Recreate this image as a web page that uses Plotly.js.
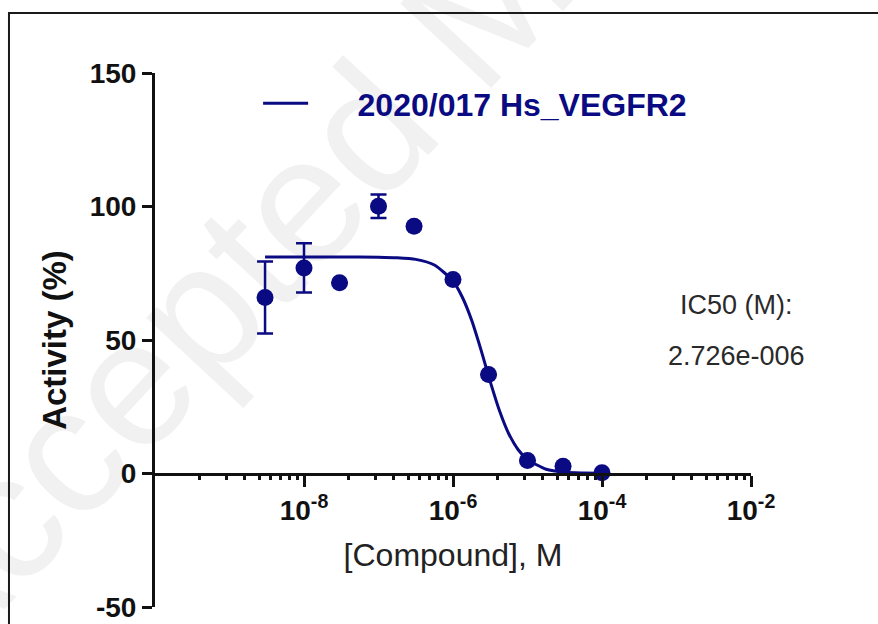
<!DOCTYPE html>
<html>
<head>
<meta charset="utf-8">
<script src="https://cdn.plot.ly/plotly-3.0.1.min.js"></script>
<style>
html,body{margin:0;padding:0;background:#fff;}
#chart{width:878px;height:624px;}
</style>
</head>
<body>
<div id="chart"></div>
<script>
// Measured points: concentration (M), mean activity (%), SD (%)
const concentrations = [3e-9, 1e-8, 3e-8, 1e-7, 3e-7, 1e-6, 3e-6, 1e-5, 3e-5, 1e-4];
const activity = [65.9, 77.0, 71.4, 100.1, 92.6, 72.7, 37.1, 4.9, 2.7, 0.3];
const activitySD = [13.5, 9.2, null, 4.4, null, null, null, null, null, null];

// Fitted curve
const curveX = [3.0e-9, 1e-8, 3.16e-8, 1e-7, 1.78e-7, 3.16e-7, 5.62e-7, 1e-6, 1.33e-6, 1.78e-6,
                2.37e-6, 3.16e-6, 4.22e-6, 5.62e-6, 7.5e-6, 1e-5, 1.78e-5, 3.16e-5, 5.62e-5, 1e-4];
const curveY = [81.1, 81.1, 81.1, 81.0, 80.8, 80.2, 78.1, 72.1, 66.1, 57.4,
                46.4, 34.4, 23.4, 14.8, 8.9, 5.2, 1.6, 0.5, 0.2, 0.05];

const seriesName = "2020/017 Hs_VEGFR2";
const ic50Label = "IC50 (M):";
const ic50Value = "2.726e-006";
const watermarkText = "Accepted Manuscript";

const xMajorTicks = [1e-8, 1e-6, 1e-4, 1e-2];
const xMajorText = ["10<sup>-8</sup>", "10<sup>-6</sup>", "10<sup>-4</sup>", "10<sup>-2</sup>"];
const minorMultipliers = [4, 9, 16, 25, 36, 49, 64, 81];
const minorBases = [1e-10, 1e-8, 1e-6, 1e-4];
const yTicks = [-50, 0, 50, 100, 150];
const yTickText = ["-50", "0", "50", "100", "150"];

const xMinorTicks = [];
minorBases.forEach(b => minorMultipliers.forEach(m => xMinorTicks.push(m * b)));

const navy = "#0a0a82";
const FONT = "Liberation Sans, Arial, sans-serif";
const NBSP = "\u00a0";

const traces = [
  {
    x: curveX, y: curveY, type: "scatter", mode: "lines",
    name: NBSP.repeat(5) + seriesName,
    line: {color: navy, width: 3, shape: "spline", smoothing: 0.6},
    showlegend: true, hoverinfo: "skip"
  },
  {
    x: concentrations, y: activity, type: "scatter", mode: "markers",
    marker: {color: navy, size: 17},
    error_y: {type: "data", array: activitySD, visible: true, color: navy, thickness: 2.5, width: 8},
    showlegend: false, cliponaxis: false
  },
  {
    x: [xMinorTicks[0]], y: [null], xaxis: "x2", type: "scatter", mode: "markers",
    showlegend: false, hoverinfo: "skip"
  }
];

const layout = {
  width: 878, height: 624,
  margin: {l: 155, r: 127, t: 73, b: 17},
  paper_bgcolor: "#ffffff", plot_bgcolor: "rgba(0,0,0,0)",
  font: {family: FONT, color: "#111"},
  showlegend: true,
  legend: {
    x: 0.173, y: 0.943, xanchor: "left", yanchor: "middle",
    bgcolor: "rgba(0,0,0,0)", itemwidth: 45,
    font: {family: FONT, size: 32, color: navy, weight: "bold"}
  },
  xaxis: {
    type: "log", range: [-10, -2],
    anchor: "free", position: 0.25,
    showline: true, linecolor: "#111", linewidth: 3,
    showgrid: false, zeroline: false,
    ticks: "outside", ticklen: 11, tickwidth: 3, tickcolor: "#111",
    tickmode: "array", tickvals: xMajorTicks, ticktext: xMajorText,
    tickfont: {family: FONT, size: 28, color: "#111", weight: "bold"},
    title: {text: "[Compound], M", font: {family: FONT, size: 32, color: "#222"}, standoff: 18}
  },
  xaxis2: {
    type: "log", range: [-10, -2], overlaying: "x",
    anchor: "free", position: 0.25,
    showline: false, showgrid: false, zeroline: false,
    ticks: "outside", ticklen: 5, tickwidth: 3, tickcolor: "#111",
    tickmode: "array", tickvals: xMinorTicks, showticklabels: false
  },
  yaxis: {
    range: [-50, 150], domain: [0, 1],
    showline: true, linecolor: "#111", linewidth: 3,
    showgrid: false, zeroline: false,
    ticks: "outside", ticklen: 10, tickwidth: 3, tickcolor: "#111",
    tickmode: "array", tickvals: yTicks, ticktext: yTickText,
    tickfont: {family: FONT, size: 28, color: "#111", weight: "bold"},
    title: {text: "Activity (%)", font: {family: FONT, size: 33, color: "#111", weight: "bold"}, standoff: 14}
  },
  annotations: [
    {
      text: ic50Label, xref: "paper", yref: "paper", x: 0.9765, y: 0.5655,
      showarrow: false, xanchor: "center", yanchor: "middle",
      font: {family: FONT, size: 27, color: "#2a2a2a"}
    },
    {
      text: ic50Value, xref: "paper", yref: "paper", x: 0.9765, y: 0.470,
      showarrow: false, xanchor: "center", yanchor: "middle",
      font: {family: FONT, size: 27, color: "#2a2a2a"}
    }
  ],
  shapes: [
    {
      type: "line", xref: "paper", yref: "paper", layer: "below",
      x0: -0.535, y0: -0.124, x1: 1.525, y1: 2.34,
      line: {color: "rgba(0,0,0,0)", width: 0},
      label: {
        text: watermarkText, textposition: "middle", yanchor: "middle",
        font: {family: FONT, size: 180, color: "#f1f1f1"}
      }
    },
    {
      type: "rect", xref: "paper", yref: "paper",
      x0: -0.245, y0: -0.3, x1: 1.4, y1: 1.1124,
      line: {color: "#1a1a1a", width: 2}, layer: "above"
    }
  ]
};

Plotly.newPlot("chart", traces, layout, {displayModeBar: false, staticPlot: true});
</script>
</body>
</html>
